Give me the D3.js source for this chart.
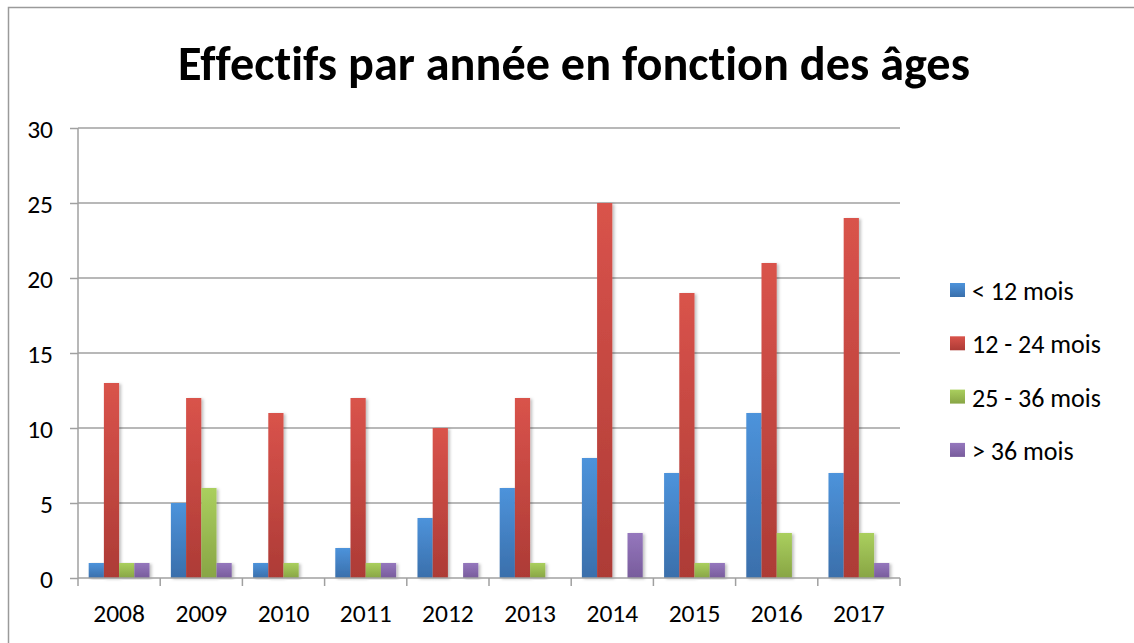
<!DOCTYPE html>
<html><head><meta charset="utf-8">
<script src="https://cdn.jsdelivr.net/npm/d3@7"></script>
<style>body{margin:0;background:#fff}svg{display:block}text{font-variant-ligatures:none}</style>
</head><body>
<svg id="c" width="1134" height="643"></svg>
<script>
const years = ["2008","2009","2010","2011","2012","2013","2014","2015","2016","2017"];
const seriesNames = ["< 12 mois","12 - 24 mois","25 - 36 mois","> 36 mois"];
const under12 = [1,5,1,2,4,6,8,7,11,7];
const m12to24 = [13,12,11,12,10,12,25,19,21,24];
const m25to36 = [1,6,1,1,0,1,0,1,3,3];
const over36 = [1,1,0,1,1,0,3,1,0,1];
const yTicks = [0,5,10,15,20,25,30];
const title = "Effectifs par année en fonction des âges";

const seriesValues = [under12, m12to24, m25to36, over36];
const colorsTop = ["#4d93db","#d9534b","#aacf5e","#9577bd"];
const colorsBot = ["#3a6fab","#ad3b36","#88a545","#785c9c"];

const svg = d3.select("#c");
const font = "Carlito, Calibri, 'Open Sans', 'Noto Sans', sans-serif";

// frame
svg.append("rect").attr("x",8.5).attr("y",7.5).attr("width",1300).attr("height",800)
  .attr("fill","none").attr("stroke","#9a9a9a").attr("stroke-width",1.5);

const defs = svg.append("defs");
colorsTop.forEach((c,i)=>{
  const g = defs.append("linearGradient").attr("id","g"+i).attr("x1",0).attr("y1",0).attr("x2",0).attr("y2",1);
  g.append("stop").attr("offset","0%").attr("stop-color",c);
  g.append("stop").attr("offset","100%").attr("stop-color",colorsBot[i]);
});
const f = defs.append("filter").attr("id","sh").attr("x","-20%").attr("y","-5%").attr("width","160%").attr("height","115%");
f.append("feDropShadow").attr("dx",2).attr("dy",1).attr("stdDeviation",1.5).attr("flood-color","#000").attr("flood-opacity",0.25);

const x0 = 78, x1 = 900, y0 = 578, y1 = 128;
const x = d3.scaleBand().domain(years).range([x0,x1]).paddingInner(0).paddingOuter(0);
const y = d3.scaleLinear().domain([0,30]).range([y0,y1]);
const groupW = x.bandwidth()*0.74;
const xs = d3.scaleBand().domain(d3.range(4)).range([0,groupW]);

// gridlines
svg.append("g").selectAll("line").data(yTicks.filter(t=>t>0)).join("line")
  .attr("x1",x0).attr("x2",x1).attr("y1",d=>y(d)).attr("y2",d=>y(d))
  .attr("stroke","#a0a0a0").attr("stroke-width",1.5);

// bars
const bars = svg.append("g");
years.forEach((yr,i)=>{
  const gx = x(yr) + (x.bandwidth()-groupW)/2;
  seriesValues.forEach((vals,s)=>{
    const v = vals[i];
    if(v<=0) return;
    bars.append("rect").attr("x",gx+xs(s)).attr("width",xs.bandwidth())
      .attr("y",y(v)).attr("height",y(0)-y(v))
      .attr("fill","url(#g"+s+")").attr("filter","url(#sh)");
  });
});

// y axis
const yAxis = d3.axisLeft(y).tickValues(yTicks).tickSize(8).tickPadding(17);
const ya = svg.append("g").attr("transform",`translate(${x0},0)`).call(yAxis);
ya.select(".domain").attr("stroke","#a0a0a0").attr("stroke-width",1.5).attr("d",`M-0,${y1}V${y0}`);
ya.selectAll(".tick line").attr("stroke","#a0a0a0").attr("stroke-width",1.5);
ya.selectAll("text").attr("font-family",font).attr("font-size",25.5).attr("fill","#000").attr("dy","0.36em");

// x axis
const xAxis = d3.axisBottom(x).tickSize(0).tickPadding(0);
const xa = svg.append("g").attr("transform",`translate(0,${y0})`).call(xAxis);
xa.select(".domain").attr("stroke","#a0a0a0").attr("stroke-width",1.5).attr("d",`M${x0},0H${x1}`);
xa.selectAll(".tick text").attr("font-family",font).attr("font-size",25.5).attr("fill","#000").attr("y",44).attr("dy",0);
const bounds = years.map(yr=>x(yr)).concat([x1]);
xa.append("g").selectAll("line").data(bounds).join("line")
  .attr("x1",d=>d).attr("x2",d=>d).attr("y1",0).attr("y2",8)
  .attr("stroke","#a0a0a0").attr("stroke-width",1.5);

// title
const t = svg.append("text").attr("x",574).attr("y",80).attr("text-anchor","middle")
  .attr("font-family",font).attr("font-weight","bold").attr("font-size",40).attr("fill","#000").text(title);
const tw = t.node().getComputedTextLength();
t.attr("font-size", 40*792/tw);

// legend
const lg = svg.append("g");
seriesNames.forEach((n,i)=>{
  const base = 300 + i*53.3;
  lg.append("rect").attr("x",950).attr("y",base-17).attr("width",15).attr("height",14).attr("fill","url(#g"+i+")");
  lg.append("text").attr("x",972).attr("y",base).attr("font-family",font)
    .attr("font-size",26).attr("fill","#000").text(n);
});
</script>
</body></html>
